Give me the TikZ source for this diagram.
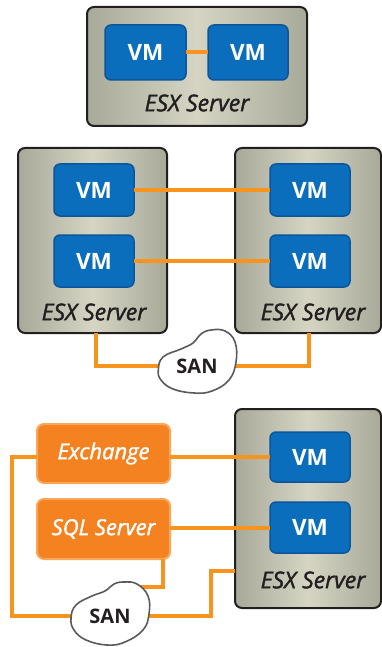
\documentclass[tikz,border=0pt]{standalone}
\usepackage{fontspec}
\setmainfont{Open Sans}
\newfontfamily\semiit{Open Sans}[ItalicFeatures={FakeBold=1.6}]
\definecolor{srvside}{HTML}{A7A999}
\definecolor{srvmid}{HTML}{D6D5C4}
\definecolor{srvborder}{HTML}{231F20}
\definecolor{vmfill}{HTML}{0A6EBD}
\definecolor{vmborder}{HTML}{0B559B}
\definecolor{orfill}{HTML}{F58220}
\definecolor{orborder}{HTML}{F9A75A}
\definecolor{link}{HTML}{F7941D}
\definecolor{cloudline}{HTML}{5A5A5C}
\definecolor{txtdark}{HTML}{231F20}
\begin{document}
\begin{tikzpicture}[x=1pt,y=-1pt,
  server/.style={draw=srvborder, line width=2pt, rounded corners=7pt,
    left color=srvside, right color=srvside, middle color=srvmid,
    inner sep=0pt, outer sep=0pt},
  vmbox/.style={draw=vmborder, line width=1.5pt, fill=vmfill, rounded corners=6pt,
    inner sep=0pt, outer sep=0pt, text=white, font=\fontsize{22.5}{24}\selectfont\bfseries},
  appbox/.style={draw=orborder, line width=2pt, fill=orfill, rounded corners=7pt,
    inner sep=0pt, outer sep=0pt, text=white, minimum width=133pt,
    font=\fontsize{22}{24}\selectfont\semiit\itshape},
  esxlabel/.style={inner sep=0pt, text=txtdark, font=\fontsize{23}{25}\selectfont\semiit\itshape},
  link/.style={draw=link, line width=4pt},
  cloudshape/.style={draw=cloudline, line width=1.6pt, fill=white},
  sanlabel/.style={inner sep=0pt, text=txtdark, font=\fontsize{20}{22}\selectfont\bfseries}
]
\useasboundingbox (0,0) rectangle (382,647);

% ---------- top ----------
\node[server, minimum width=220pt, minimum height=119pt] (s1) at (197,66.5) {};
\node[vmbox, minimum width=81pt, minimum height=55pt] (v1a) at (145.5,52.5) {VM};
\node[vmbox, minimum width=80pt, minimum height=55pt] (v1b) at (248,52.5) {VM};
\node[esxlabel] (e1) at (197,103) {ESX Server};
\draw[link] (v1a.east) -- (v1b.west);

% ---------- middle ----------
\node[server, minimum width=149pt, minimum height=185pt] (s2) at (92.5,240.5) {};
\node[server, minimum width=146pt, minimum height=185pt] (s3) at (308,240.5) {};
\node[vmbox, minimum width=80pt, minimum height=52pt] (v2a) at (94,190) {VM};
\node[vmbox, minimum width=80pt, minimum height=52pt] (v2b) at (94,261) {VM};
\node[vmbox, minimum width=80pt, minimum height=52pt] (v3a) at (310,190) {VM};
\node[vmbox, minimum width=80pt, minimum height=52pt] (v3b) at (310,261) {VM};
\node[esxlabel] (e2) at (94,312) {ESX Server};
\node[esxlabel] (e3) at (313,312) {ESX Server};
\draw[link] (v2a.east) -- (v3a.west);
\draw[link] (v2b.east) -- (v3b.west);

\coordinate (c1) at (197,366);
\draw[link] (s2.south -| 96,0) |- (c1);
\draw[link] (c1) -| (s3.south -| 309,0);
\draw[cloudshape, shift={(c1)}] plot[smooth cycle, tension=0.7] coordinates {
  (-38.7,4) (-34,-9) (-16,-17) (-4,-23) (4,-32) (14,-36) (28,-35) (38,-24)
  (39,-4) (32,14) (15,25) (-3,27) (-24,23) (-36,14)};
\node[sanlabel] (san1) at (c1) {SAN};

% ---------- bottom ----------
\node[server, minimum width=146pt, minimum height=199pt] (s4) at (308,508.5) {};
\node[vmbox, minimum width=80pt, minimum height=50pt] (v4a) at (310,457) {VM};
\node[vmbox, minimum width=80pt, minimum height=51pt] (v4b) at (310,527.5) {VM};
\node[esxlabel] (e4) at (313,580) {ESX Server};
\node[appbox, minimum height=59pt] (exch) at (103.5,453.5) {Exchange};
\node[appbox, minimum height=60pt] (sql) at (103.5,529) {SQL Server};
\draw[link] (v4a.west -| exch.east) -- (v4a.west);
\draw[link] (v4b.west -| sql.east) -- (v4b.west);

\coordinate (c2) at (110,616);
\coordinate (lx) at (12,0);
\coordinate (rx) at (211,571);
\draw[link] (exch.west |- v4a.west) -- (lx |- v4a.west) |- (c2);
\draw[link] (sql.south -| 163,0) |- (130,587);
\draw[link] (c2) -| (rx) -- (s4.west |- rx);
\draw[cloudshape, shift={(c2)}] plot[smooth cycle, tension=0.7] coordinates {
  (-39,2) (-34,-11) (-18,-20) (-5,-25) (4,-32) (14,-34) (27,-32) (38,-20)
  (39,-2) (33,14) (15,26) (-3,29) (-24,24) (-36,14)};
\node[sanlabel] (san2) at (c2) {SAN};
\end{tikzpicture}
\end{document}
